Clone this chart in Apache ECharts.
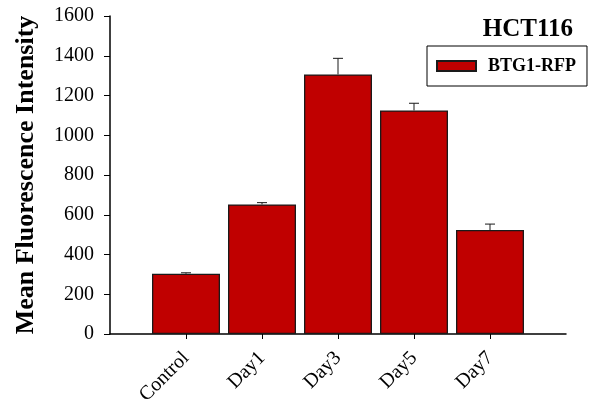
<!DOCTYPE html>
<html>
<head>
<meta charset="utf-8">
<script src="https://cdn.jsdelivr.net/npm/echarts@6/dist/echarts.min.js"></script>
<style>
  html, body { margin: 0; padding: 0; background: #fff; }
  #chart { width: 589px; height: 412px; }
</style>
</head>
<body>
<div id="chart"></div>
<script>
// Mean fluorescence intensity of BTG1-RFP in HCT116 cells over time
const categories = ['Control', 'Day1', 'Day3', 'Day5', 'Day7'];
const meanValues = [303, 652, 1306, 1125, 523];
const errorValues = [5, 9, 81, 36, 30];
const yTicks = [0, 200, 400, 600, 800, 1000, 1200, 1400, 1600];

const FONT = '"Liberation Serif", "Times New Roman", serif';

// Axis slots: an empty slot on each side of the five groups
const axisSlots = [''].concat(categories, ['']);
const barData = categories.map((c, i) => [i + 1, meanValues[i]]);
const errData = categories.map((c, i) => [i + 1, meanValues[i], meanValues[i] + errorValues[i]]);

const chart = echarts.init(document.getElementById('chart'), null, { renderer: 'canvas' });

chart.setOption({
  animation: false,
  backgroundColor: '#ffffff',
  title: {
    text: 'HCT116',
    right: 11,
    top: 12,
    textStyle: { fontFamily: FONT, fontWeight: 'bold', fontSize: 25, color: '#000' }
  },
  legend: {
    left: 427,
    top: 46,
    orient: 'horizontal',
    data: [{ name: 'BTG1-RFP', icon: 'rect' }],
    itemWidth: 39,
    itemHeight: 10,
    itemGap: 6,
    padding: [11, 11, 11, 9],
    borderColor: '#000',
    borderWidth: 1,
    borderRadius: 0,
    textStyle: { fontFamily: FONT, fontWeight: 'bold', fontSize: 18, color: '#000', padding: [0, 0, 0, 7] }
  },
  grid: { left: 110, right: 23, top: 16, bottom: 78, containLabel: false },
  xAxis: {
    type: 'category',
    data: axisSlots,
    boundaryGap: false,
    axisLine: { show: true, lineStyle: { color: '#000', width: 1.5 } },
    axisTick: {
      show: true,
      inside: false,
      length: 5,
      interval: (idx, val) => val !== '',
      lineStyle: { color: '#000', width: 1 }
    },
    splitLine: { show: false },
    axisLabel: {
      rotate: 45,
      margin: 21,
      interval: 0,
      fontFamily: FONT,
      fontSize: 20,
      color: '#000'
    }
  },
  yAxis: {
    type: 'value',
    min: yTicks[0],
    max: yTicks[yTicks.length - 1],
    interval: yTicks[1] - yTicks[0],
    name: 'Mean Fluorescence Intensity',
    nameLocation: 'middle',
    nameGap: 71,
    nameTextStyle: { fontFamily: FONT, fontWeight: 'bold', fontSize: 26, color: '#000' },
    axisLine: { show: true, lineStyle: { color: '#000', width: 1.5 } },
    axisTick: { show: true, inside: false, length: 6, lineStyle: { color: '#000', width: 1 } },
    splitLine: { show: false },
    axisLabel: { fontFamily: FONT, fontSize: 20, color: '#000', margin: 16, formatter: v => String(v) }
  },
  series: [
    {
      name: 'BTG1-RFP',
      type: 'bar',
      data: barData,
      barWidth: 68,
      itemStyle: { color: '#c00000', borderColor: '#1a1a1a', borderWidth: 1.3 },
      z: 2
    },
    {
      name: 'error',
      type: 'custom',
      data: errData,
      z: 3,
      renderItem: function (params, api) {
        const x = api.value(0);
        const top = api.coord([x, api.value(2)]);
        const base = api.coord([x, api.value(1)]);
        const half = 5;
        const style = { stroke: '#1a1a1a', lineWidth: 1 };
        return {
          type: 'group',
          children: [
            { type: 'line', shape: { x1: top[0], y1: base[1], x2: top[0], y2: top[1] }, style },
            { type: 'line', shape: { x1: top[0] - half, y1: top[1], x2: top[0] + half, y2: top[1] }, style }
          ]
        };
      }
    }
  ]
});
</script>
</body>
</html>
